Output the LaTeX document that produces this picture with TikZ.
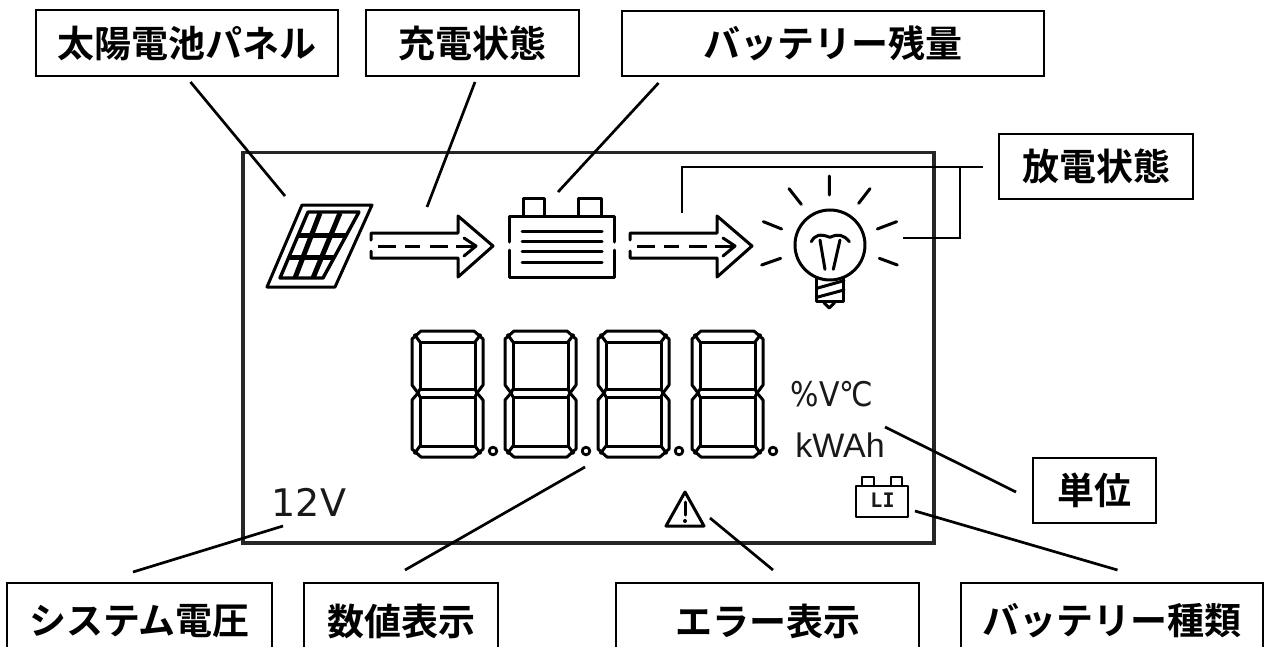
\documentclass[tikz,border=0pt]{standalone}
\usepackage{fontspec}
\setmainfont{DejaVu Sans}
\newfontfamily\jpfont{Noto Sans CJK JP Bold}
\newfontfamily\lcdmono{DejaVu Sans Mono}
\newfontfamily\lcdsans{Liberation Sans}
\tikzset{
  labelbox/.style={draw=black,line width=2.6pt,fill=white,inner sep=0pt,align=center,font=\jpfont\fontsize{37}{37}\selectfont},
  conn/.style={line width=2.7pt,line cap=butt},
  lcd/.style={line width=3pt,line join=round,line cap=round},
  seg/.style={line width=3pt,line join=round},
  lcdtext/.style={inner sep=0pt,text=black!90}
}
\newcommand{\sevenseg}[1]{%
  \begin{scope}[shift={(#1,331)},seg]
    \draw (9,0)--(62,0)--(71,8)--(71,54)--(65,62)--(71,69)--(71,118)--(62,126)--(9,126)--(0,118)--(0,69)--(6,62)--(0,54)--(0,8)--cycle;
    \draw (8,11)--(63,11)--(63,58)--(8,58)--cycle;
    \draw (8,66)--(63,66)--(63,115)--(8,115)--cycle;
    \draw (2,3)--(8,11) (69,3)--(63,11) (2,123)--(8,115) (69,123)--(63,115);
    \draw (6,62)--(8,58) (6,62)--(8,66) (65,62)--(63,58) (65,62)--(63,66);
    \draw[line width=2.8pt] (81,120) circle (3.8);
  \end{scope}}
\newcommand{\lcdarrow}[1]{%
  \begin{scope}[shift={(#1,0)},lcd]
    \draw (0,240)--(0,233)--(87,233)--(87,216)--(122,246)--(87,277)--(87,258)--(0,258)--(0,251);
    \draw[line cap=butt] (7,246)--(25,246) (34,246)--(49,246) (59,246)--(77,246) (85,246)--(105,246);
    \draw (93,238)--(105,246)--(93,256);
  \end{scope}}
\begin{document}
\begin{tikzpicture}[x=1pt,y=-1pt]
\useasboundingbox (0,0) rectangle (1265,646);
\fill[white] (0,0) rectangle (1265,646);

% LCD frame
\draw[line width=3.2pt,black!85] (243,152.5) rectangle (934,543);

% boxes
\node[labelbox,minimum width=302pt,minimum height=66pt] (solar) at (187,43) {\raisebox{-1pt}{太陽電池パネル}};
\node[labelbox,minimum width=213pt,minimum height=66pt] (charge) at (472.5,43) {\raisebox{-1pt}{充電状態}};
\node[labelbox,minimum width=422pt,minimum height=65pt] (level) at (833,43.5) {バッテリー残量};
\node[labelbox,minimum width=194pt,minimum height=65pt] (discharge) at (1096,166.5) {\raisebox{-3pt}{放電状態}};
\node[labelbox,minimum width=123pt,minimum height=65pt] (unit) at (1094.5,490.5) {単位};
\node[labelbox,minimum width=265pt,minimum height=76pt] (sysv) at (139.5,621) {システム電圧};
\node[labelbox,minimum width=194pt,minimum height=76pt] (numeric) at (401,621) {数値表示};
\node[labelbox,minimum width=303pt,minimum height=76pt] (error) at (767.5,621) {エラー表示};
\node[labelbox,minimum width=302pt,minimum height=76pt] (kind) at (1112,621) {バッテリー種類};

% connector ends
\coordinate (a1) at (190.5,82);  \coordinate (a2) at (285,196);
\coordinate (b1) at (475,82);    \coordinate (b2) at (427,207);
\coordinate (c1) at (658.5,83);  \coordinate (c2) at (558,192);
\coordinate (d1) at (983,167);   \coordinate (d2) at (682,167); \coordinate (d3) at (682,213);
\coordinate (d4) at (960,167);   \coordinate (d5) at (960,238); \coordinate (d6) at (903,238);
\coordinate (e1) at (1016,492);  \coordinate (e2) at (885,427);
\coordinate (f1) at (1117.5,570);\coordinate (f2) at (915,511);
\coordinate (g1) at (773,570);   \coordinate (g2) at (710,518);
\coordinate (h1) at (405,570);   \coordinate (h2) at (585,467);
\coordinate (i1) at (133,572);   \coordinate (i2) at (283,526);

\draw[conn] (a1)--(a2);
\draw[conn] (b1)--(b2);
\draw[conn] (c1)--(c2);
\draw[conn] (d3)--(d2)--(d1);
\draw[conn] (d4)--(d5)--(d6);
\draw[conn] (e1)--(e2);
\draw[conn] (f1)--(f2);
\draw[conn] (g1)--(g2);
\draw[conn] (h1)--(h2);
\draw[conn] (i1)--(i2);

% solar panel
\draw[lcd] (302,205)--(372,205)--(335,287)--(267,287)--cycle;
\draw[lcd,line width=3.4pt] (308,212)--(359,212)--(323,278)--(280,278)--cycle;
\draw[line width=5pt] (298,235)--(346,235) (289,257)--(334,257);
\draw[line width=5pt] (320,213)--(295,278) (340,213)--(313,278);

% arrows
\lcdarrow{371}
\lcdarrow{630}

% battery
\begin{scope}[lcd]
  \draw (509,242)--(509,216)--(614,216)--(614,242);
  \draw (523,216)--(523,198)--(544,198)--(544,216) (578,216)--(578,198)--(601,198)--(601,216);
  \draw (509,250)--(509,277)--(614,277)--(614,250);
  \draw (522,231)--(602,231) (522,241)--(602,241) (522,251)--(602,251) (522,262)--(602,262);
\end{scope}

% bulb
\begin{scope}[shift={(620,150)},x=.3333pt,y=-.3333pt,lcd]
  \draw (630,285) circle (35pt);
  \draw (590,385)--(590,455)--(672,455)--(672,385);
  \draw (590,415)--(672,392) (590,442)--(672,420);
  \draw (612,458)--(628,474)--(644,458);
  \draw (574,275) .. controls (585,255) and (600,250) .. (630,262) .. controls (655,250) and (672,255) .. (688,275);
  \draw (600,270)--(615,358) (660,270)--(640,358);
  \draw (507,116)--(544,163) (628,78)--(628,135) (750,116)--(716,160);
  \draw (430,215)--(485,237) (830,215)--(772,237);
  \draw (425,345)--(482,325) (778,325)--(832,345);
\end{scope}

% seven-segment digits
\sevenseg{412}
\sevenseg{505}
\sevenseg{598}
\sevenseg{692}

% LCD texts
\node[lcdtext,font=\fontsize{34}{34}\selectfont,anchor=center] (units1) at (832,394.5) {\scalebox{.88}[1]{\%V℃}};
\node[lcdtext,font=\lcdsans\fontsize{34}{34}\selectfont,anchor=center] (units2) at (840,445) {kWAh};
\node[lcdtext,font=\fontsize{38}{38}\selectfont,anchor=center] (volts) at (309,502) {12V};

% small LI battery
\begin{scope}[lcd,line width=2.6pt]
  \draw (856,486) rectangle (908,517);
  \draw (862,486)--(862,477)--(874,477)--(874,486) (891,486)--(891,477)--(902,477)--(902,486);
\end{scope}
\node[lcdtext,font=\lcdmono\bfseries\fontsize{20}{20}\selectfont] (li) at (882.5,500.5) {LI};

% warning triangle
\draw[lcd] (685,492)--(704,526)--(666,526)--cycle;
\draw[line width=3pt,line cap=round] (685,502)--(685,515);
\fill (685,521) circle (2);
\end{tikzpicture}
\end{document}
